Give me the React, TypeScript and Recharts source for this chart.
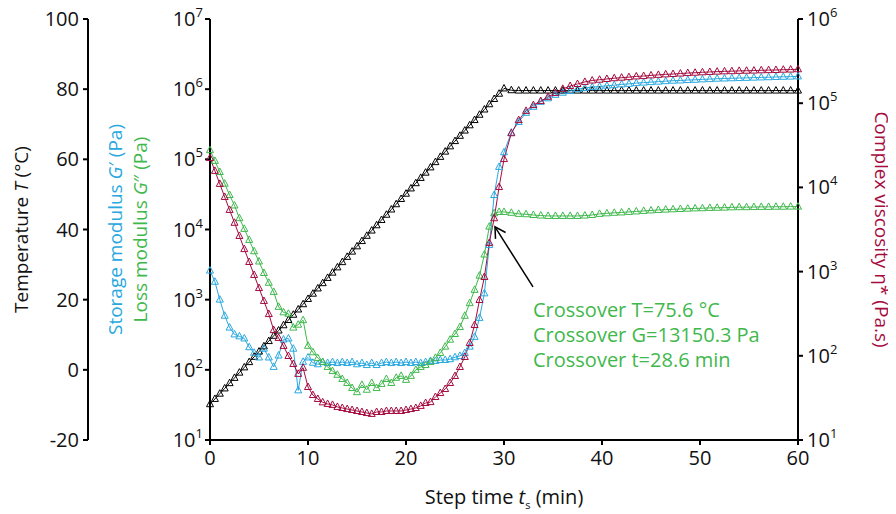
import { LineChart, Line, XAxis, YAxis, ReferenceLine } from "recharts";

const FONT = "'Open Sans', sans-serif";
const BLUE = "#29a8e0";
const GREEN = "#3fb84c";
const RED = "#a50b3e";
const BLACK = "#000000";

// step time, min
const stepTime = [
  0, 0.5, 1, 1.5, 2, 2.5, 3, 3.5, 4, 4.5, 5, 5.5, 6, 6.5, 7, 7.5, 8, 8.5, 9, 9.5,
  10, 10.5, 11, 11.5, 12, 12.5, 13, 13.5, 14, 14.5, 15, 15.5, 16, 16.5, 17, 17.5, 18, 18.5, 19, 19.5,
  20, 20.5, 21, 21.5, 22, 22.5, 23, 23.5, 24, 24.5, 25, 25.5, 26, 26.5, 27, 27.5, 28, 28.5, 29, 29.5,
  30, 30.75, 31.5, 32.25, 33, 33.75, 34.5, 35.25, 36, 36.75, 37.5, 38.25, 39, 39.75, 40.5, 41.25,
  42, 42.75, 43.5, 44.25, 45, 45.75, 46.5, 47.25, 48, 48.75, 49.5, 50.25, 51, 51.75, 52.5, 53.25,
  54, 54.75, 55.5, 56.25, 57, 57.75, 58.5, 59.25, 60,
];

// temperature T, °C
const temperature = [
  -9.8, -8.3, -6.8, -5.3, -3.8, -2.3, -0.8, 0.7, 2.2, 3.7, 5.2, 6.7, 8.2, 9.7, 11.2, 12.7, 14.2, 15.7, 17.2, 18.7,
  20.2, 21.7, 23.2, 24.7, 26.2, 27.7, 29.2, 30.7, 32.2, 33.7, 35.2, 36.7, 38.2, 39.7, 41.2, 42.7, 44.2, 45.7, 47.2, 48.7,
  50.2, 51.7, 53.2, 54.7, 56.2, 57.7, 59.2, 60.7, 62.2, 63.7, 65.2, 66.7, 68.2, 69.7, 71.2, 72.7, 74.2, 75.7, 77.2, 78.7,
  80.2, 79.7, 79.6, 79.6, 79.6, 79.6, 79.6, 79.6, 79.6, 79.6, 79.6, 79.6, 79.6, 79.6, 79.6, 79.6,
  79.6, 79.6, 79.6, 79.6, 79.6, 79.6, 79.6, 79.6, 79.6, 79.6, 79.6, 79.6, 79.6, 79.6, 79.6, 79.6,
  79.6, 79.6, 79.6, 79.6, 79.6, 79.6, 79.6, 79.6, 79.6,
];

// storage modulus G', Pa
const storageModulus = [
  2600, 1800, 1000, 590, 400, 320, 300, 280, 210, 175, 150, 200, 150, 110, 160, 270, 280, 200, 51, 130,
  150, 126, 120, 129, 125, 129, 125, 129, 125, 129, 120, 125, 117, 125, 117, 125, 129, 125, 129, 125,
  129, 125, 129, 125, 129, 134, 134, 138, 138, 142, 151, 158, 174, 214, 295, 550, 1230, 6000, 31000, 78000,
  126000, 240000, 340000, 460000, 560000, 660000, 740000, 830000, 890000, 940000, 1000000, 1040000, 1070000, 1090000, 1120000, 1140000,
  1170000, 1190000, 1220000, 1240000, 1260000, 1280000, 1300000, 1320000, 1330000, 1350000, 1360000, 1380000, 1390000, 1410000, 1420000, 1430000,
  1440000, 1450000, 1460000, 1470000, 1480000, 1490000, 1500000, 1510000, 1520000,
];

// loss modulus G'', Pa
const lossModulus = [
  135000, 95000, 66000, 45000, 31000, 22000, 14500, 10200, 7100, 4900, 3500, 2400, 1740, 1290, 790, 660, 630, 400, 440, 510,
  220, 178, 147, 129, 110, 96, 85, 74, 65, 55, 48, 61, 52, 65, 55, 63, 74, 65, 77, 82,
  72, 82, 100, 110, 117, 129, 148, 174, 214, 269, 324, 407, 589, 891, 1380, 2200, 4400, 11000, 17000, 17800,
  17800, 17300, 16700, 16500, 16100, 15800, 15600, 15600, 15600, 15600, 15600, 15800, 16100, 16700, 17000, 17300,
  17500, 17800, 18100, 18400, 18700, 19000, 19200, 19400, 19600, 19800, 20000, 20100, 20300, 20400, 20500, 20700,
  20800, 20800, 20900, 21000, 21000, 21100, 21100, 21200, 21200,
];

// complex viscosity eta*, Pa.s
const complexViscosity = [
  22300, 15700, 11000, 7700, 5400, 3800, 2650, 1850, 1300, 912, 638, 448, 313, 202, 163, 131, 99.5, 80, 61, 72,
  42.6, 34.2, 30.7, 28, 26.8, 26.1, 24.7, 24, 23.3, 22.7, 22.1, 21.5, 20.9, 20.4, 21.5, 21.5, 22.1, 22.1, 22.1, 22.1,
  22.7, 23.3, 24, 25.4, 27.5, 28.2, 32.4, 36.1, 40.3, 47.5, 57.5, 73.6, 96.8, 142, 232, 460, 863, 2190, 4300, 10100,
  21700, 44000, 63000, 81000, 95000, 106000, 119000, 132000, 148000, 160000, 169000, 179000, 186000, 190000, 194000, 198000,
  201000, 204000, 208000, 210000, 214000, 217000, 220000, 222000, 225000, 228000, 230000, 233000, 235000, 237000, 239000, 240000,
  242000, 243000, 244000, 246000, 247000, 248000, 250000, 251000, 253000,
];

const modulusTicks = [10, 100, 1000, 10000, 100000, 1000000, 10000000];
const viscosityTicks = [10, 100, 1000, 10000, 100000, 1000000];
const temperatureTicks = [-20, 0, 20, 40, 60, 80, 100];
const timeTicks = [0, 10, 20, 30, 40, 50, 60];

const crossoverLines = ["Crossover T=75.6 °C", "Crossover G=13150.3 Pa", "Crossover t=28.6 min"];
const crossoverArrow = [
  { x: 32.96, y: 1517 },
  { x: 29.08, y: 10900 },
];

const data = stepTime.map((t, i) => ({
  t,
  temp: temperature[i],
  gp: storageModulus[i],
  gpp: lossModulus[i],
  eta: complexViscosity[i],
}));

const axisStyle = { stroke: "#000", strokeWidth: 2 };

function triangleDot(color: string) {
  return (props: any) => {
    const { cx, cy, index } = props;
    if (cx == null || cy == null) return <g key={index} />;
    return (
      <path
        key={index}
        d={`M${cx},${cy - 4} L${cx + 3.5},${cy + 2.5} L${cx - 3.5},${cy + 2.5} Z`}
        fill="none"
        stroke={color}
        strokeWidth={1}
      />
    );
  };
}

function LogTick(props: any) {
  const { x, y, payload, textAnchor } = props;
  const exp = Math.round(Math.log10(payload.value));
  return (
    <text x={x} y={y + 7} textAnchor={textAnchor} fontSize={20} fill="#111" fontFamily={FONT}>
      10
      <tspan fontSize={13} dy={-9}>
        {exp}
      </tspan>
    </text>
  );
}

function TemperatureTitle(props: any) {
  const { viewBox } = props;
  const cx = viewBox.x + 13;
  const cy = viewBox.y + viewBox.height / 2;
  return (
    <text
      x={cx}
      y={cy}
      transform={`rotate(-90 ${cx} ${cy})`}
      textAnchor="middle"
      dominantBaseline="central"
      fontSize={19}
      fill="#111"
      fontFamily={FONT}
    >
      Temperature <tspan fontStyle="italic">T</tspan> (°C)
    </text>
  );
}

function ModulusTitle(props: any) {
  const { viewBox } = props;
  const cy = viewBox.y + viewBox.height / 2;
  const bx = viewBox.x + 27;
  const gx = viewBox.x + 52;
  return (
    <g fontSize={19} fontFamily={FONT}>
      <text x={bx} y={cy} transform={`rotate(-90 ${bx} ${cy})`} textAnchor="middle" dominantBaseline="central" fill={BLUE}>
        Storage modulus <tspan fontStyle="italic">G</tspan>′ (Pa)
      </text>
      <text x={gx} y={cy} transform={`rotate(-90 ${gx} ${cy})`} textAnchor="middle" dominantBaseline="central" fill={GREEN}>
        Loss modulus <tspan fontStyle="italic">G</tspan>″ (Pa)
      </text>
    </g>
  );
}

function ViscosityTitle(props: any) {
  const { viewBox } = props;
  const cx = viewBox.x + 84;
  const cy = viewBox.y + viewBox.height / 2;
  return (
    <text
      x={cx}
      y={cy}
      transform={`rotate(90 ${cx} ${cy})`}
      textAnchor="middle"
      dominantBaseline="central"
      fontSize={19}
      fill={RED}
      fontFamily={FONT}
    >
      Complex viscosity η* (Pa.s)
    </text>
  );
}

function TimeTitle(props: any) {
  const { viewBox } = props;
  const cx = viewBox.x + viewBox.width / 2;
  const cy = viewBox.y + 64;
  return (
    <text x={cx} y={cy} textAnchor="middle" fontSize={20} fill="#111" fontFamily={FONT}>
      Step time <tspan fontStyle="italic">t</tspan>
      <tspan fontSize={11} dy={5}>
        s
      </tspan>
      <tspan dy={-5}> (min)</tspan>
    </text>
  );
}

function CrossoverArrow(props: any) {
  const { x1, y1, x2, y2 } = props;
  const ang = Math.atan2(y1 - y2, x1 - x2);
  const len = 12;
  const spread = 0.52;
  const ax = x2 + len * Math.cos(ang + spread);
  const ay = y2 + len * Math.sin(ang + spread);
  const bx = x2 + len * Math.cos(ang - spread);
  const by = y2 + len * Math.sin(ang - spread);
  return (
    <g>
      <line x1={x1} y1={y1} x2={x2} y2={y2} stroke="#000" strokeWidth={1.5} />
      <path d={`M${ax},${ay} L${x2},${y2} L${bx},${by}`} fill="none" stroke="#000" strokeWidth={1.5} />
      {crossoverLines.map((line, i) => (
        <text key={line} x={x1} y={y1 + 30 + i * 25} fontSize={20} fill={GREEN} fontFamily={FONT}>
          {line}
        </text>
      ))}
    </g>
  );
}

export default function App() {
  return (
    <div style={{ width: 896, height: 514, margin: "-8px 0 0 -8px", background: "#fff" }}>
      <LineChart width={896} height={514} data={data} margin={{ top: 19, right: 0, bottom: 0, left: 8 }}>
        <XAxis
          dataKey="t"
          type="number"
          domain={[0, 60]}
          ticks={timeTicks}
          height={74}
          axisLine={axisStyle}
          tickLine={axisStyle}
          tickSize={5}
          tickMargin={6}
          tick={{ fontSize: 20, fill: "#111", fontFamily: FONT }}
          label={<TimeTitle />}
        />
        <YAxis
          yAxisId="mod"
          orientation="left"
          scale="log"
          domain={[10, 10000000]}
          allowDataOverflow
          ticks={modulusTicks}
          width={122}
          axisLine={axisStyle}
          tickLine={axisStyle}
          tickSize={5}
          tickMargin={2}
          tick={<LogTick />}
          label={<ModulusTitle />}
        />
        <YAxis
          yAxisId="temp"
          orientation="left"
          domain={[-20, 100]}
          ticks={temperatureTicks}
          width={80}
          axisLine={axisStyle}
          tickLine={axisStyle}
          tickSize={5}
          tickMargin={4}
          tick={{ fontSize: 20, fill: "#111", fontFamily: FONT }}
          label={<TemperatureTitle />}
        />
        <YAxis
          yAxisId="visc"
          orientation="right"
          scale="log"
          domain={[10, 1000000]}
          allowDataOverflow
          ticks={viscosityTicks}
          width={98}
          axisLine={axisStyle}
          tickLine={axisStyle}
          tickSize={5}
          tickMargin={4}
          tick={<LogTick />}
          label={<ViscosityTitle />}
        />
        <Line
          yAxisId="temp"
          dataKey="temp"
          type="linear"
          stroke={BLACK}
          strokeWidth={1}
          dot={triangleDot(BLACK)}
          isAnimationActive={false}
        />
        <Line
          yAxisId="mod"
          dataKey="gp"
          type="linear"
          stroke={BLUE}
          strokeWidth={1}
          dot={triangleDot(BLUE)}
          isAnimationActive={false}
        />
        <Line
          yAxisId="mod"
          dataKey="gpp"
          type="linear"
          stroke={GREEN}
          strokeWidth={1}
          dot={triangleDot(GREEN)}
          isAnimationActive={false}
        />
        <Line
          yAxisId="visc"
          dataKey="eta"
          type="linear"
          stroke={RED}
          strokeWidth={1}
          dot={triangleDot(RED)}
          isAnimationActive={false}
        />
        <ReferenceLine
          yAxisId="mod"
          segment={crossoverArrow}
          ifOverflow="visible"
          shape={<CrossoverArrow />}
        />
      </LineChart>
    </div>
  );
}
